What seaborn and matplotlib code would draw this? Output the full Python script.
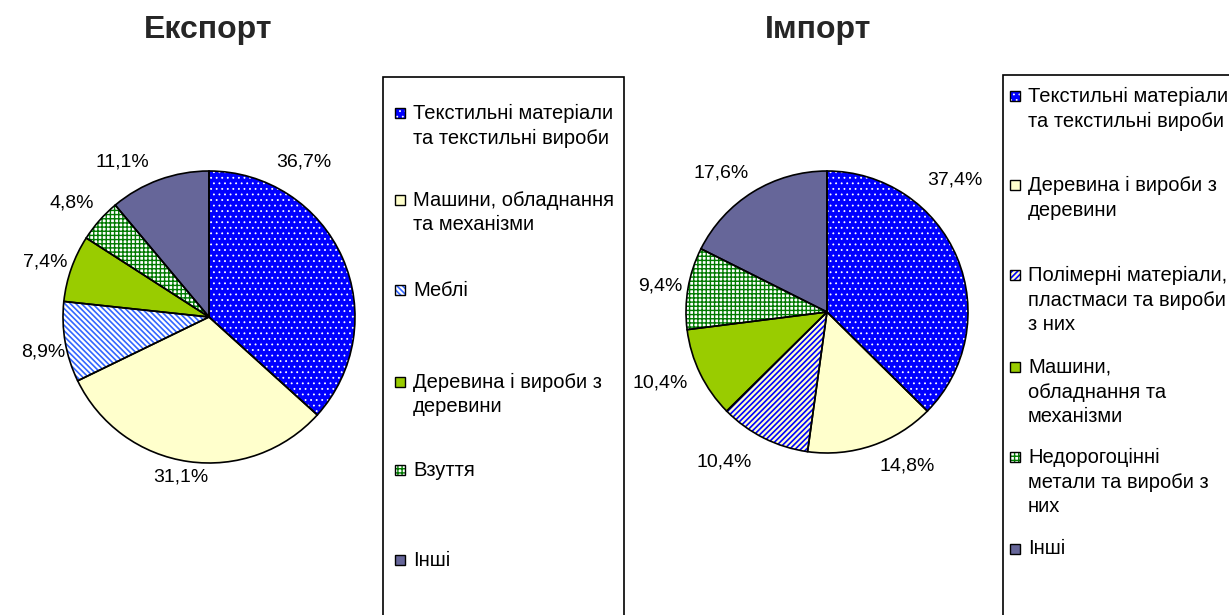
import matplotlib
matplotlib.use("Agg")
import matplotlib.pyplot as plt
from matplotlib.patches import Rectangle
import seaborn as sns

# ---------------- data ----------------
titles = ["Експорт", "Імпорт"]

export_labels = [
    "Текстильні матеріали\nта текстильні вироби",
    "Машини, обладнання\nта механізми",
    "Меблі",
    "Деревина і вироби з\nдеревини",
    "Взуття",
    "Інші",
]
export_values = [36.7, 31.1, 8.9, 7.4, 4.8, 11.1]

import_labels = [
    "Текстильні матеріали\nта текстильні вироби",
    "Деревина і вироби з\nдеревини",
    "Полімерні матеріали,\nпластмаси та вироби\nз них",
    "Машини,\nобладнання та\nмеханізми",
    "Недорогоцінні\nметали та вироби з\nних",
    "Інші",
]
import_values = [37.4, 14.8, 10.4, 10.4, 9.4, 17.6]

# ---------------- style ----------------
sns.set_theme(style="white")
plt.rcParams["font.family"] = ["Liberation Sans", "DejaVu Sans"]
plt.rcParams["hatch.linewidth"] = 1.0

W, H = 1229, 615
fig = plt.figure(figsize=(W / 100, H / 100), dpi=100)
fig.patch.set_facecolor("white")

# (face, hatch colour, hatch, hatch linewidth)
export_styles = [("#0000FF", "white", "...", 0.6), ("#FFFFCC", None, "", 1.0),
                 ("white", "#3366FF", "\\" * 6, 1.2), ("#99CC00", None, "", 1.0),
                 ("white", "#007A00", "++++", 1.0), ("#666699", None, "", 1.0)]
import_styles = [("#0000FF", "white", "...", 0.6), ("#FFFFCC", None, "", 1.0),
                 ("#FFFFCC", "#0000FF", "/" * 6, 1.2), ("#99CC00", None, "", 1.0),
                 ("white", "#007A00", "++++", 1.0), ("#666699", None, "", 1.0)]

# label positions relative to pie centre, in radius units
export_lpos = [(0.651, 1.06), (-0.19, -1.095), (-1.136, -0.238),
               (-1.122, 0.374), (-0.938, 0.781), (-0.596, 1.06)]
import_lpos = [(0.908, 0.936), (0.567, -1.092), (-0.73, -1.064),
               (-1.184, -0.504), (-1.184, 0.184), (-0.752, 0.986)]

FS_LEG = 14.5
FS_LAB = 14


def fmt(p):
    return f"{p:.1f}%".replace(".", ",")


def fx(x):
    return x / W


def fy(y):
    return 1 - y / H


def style_patch(p, fc, hc, h, hlw):
    p.set_facecolor(fc)
    p.set_edgecolor(hc if hc else fc)
    p.set_hatch(h if h else None)
    p.set_linewidth(0)
    try:
        p.set_hatch_linewidth(hlw)
    except AttributeError:
        pass


def draw_pie(cx, cy, R, values, styles, lpos):
    L = 1.45
    ax = fig.add_axes([(cx - L * R) / W, (H - cy - L * R) / H,
                       2 * L * R / W, 2 * L * R / H])
    wedges, texts, autotexts = ax.pie(
        values, startangle=90, counterclock=False, radius=1,
        autopct=fmt, pctdistance=1.15,
        wedgeprops=dict(linewidth=0),
        textprops=dict(fontsize=FS_LAB, color="black"))
    for w, st in zip(wedges, styles):
        style_patch(w, *st)
    ax.pie(values, startangle=90, counterclock=False, radius=1,
           wedgeprops=dict(fill=False, edgecolor="black", linewidth=1.2))
    for t, (dx, dy) in zip(autotexts, lpos):
        t.set_position((dx, dy))
        t.set_ha("center")
        t.set_va("center")
    ax.set_xlim(-L, L)
    ax.set_ylim(-L, L)
    ax.set_aspect("equal")
    ax.axis("off")


def draw_legend(x0, y0, x1, y1, labels, styles, mx, tx, ys, lsp=25):
    fig.add_artist(Rectangle((fx(x0), fy(y1)), fx(x1) - fx(x0), fy(y0) - fy(y1),
                             transform=fig.transFigure, fill=False,
                             edgecolor="black", linewidth=1.2))
    s = 10
    for lab, st, yc in zip(labels, styles, ys):
        r = Rectangle((fx(mx - s / 2), fy(yc + s / 2)), s / W, s / H,
                      transform=fig.transFigure)
        style_patch(r, *st)
        fig.add_artist(r)
        fig.add_artist(Rectangle((fx(mx - s / 2), fy(yc + s / 2)), s / W, s / H,
                                 transform=fig.transFigure, fill=False,
                                 edgecolor="black", linewidth=1.0))
        for i, line in enumerate(lab.split("\n")):
            fig.text(fx(tx), fy(yc + i * lsp), line, fontsize=FS_LEG,
                     ha="left", va="center", color="black")


draw_pie(209, 317, 146, export_values, export_styles, export_lpos)
draw_pie(827, 312, 141, import_values, import_styles, import_lpos)

fig.text(fx(208), fy(30), titles[0], fontsize=23, fontweight="bold",
         ha="center", va="center")
fig.text(fx(818), fy(30), titles[1], fontsize=23, fontweight="bold",
         ha="center", va="center")

draw_legend(383, 77, 624, 640, export_labels, export_styles, 400, 413,
            [113, 200, 290, 382, 470, 560])
draw_legend(1003, 75, 1260, 640, import_labels, import_styles, 1015, 1028,
            [96, 185, 275, 367, 457, 549])

fig.savefig("out.png", dpi=100, facecolor="white")
